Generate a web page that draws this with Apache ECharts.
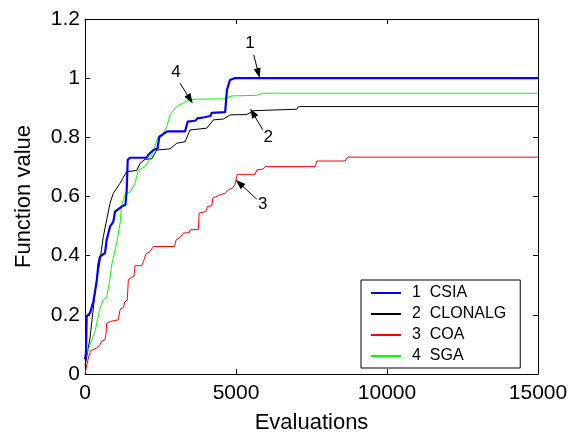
<!DOCTYPE html>
<html>
<head>
<meta charset="utf-8">
<script src="https://cdn.jsdelivr.net/npm/echarts@6/dist/echarts.min.js"></script>
<style>
html,body{margin:0;padding:0;background:#fff;}
#chart{width:572px;height:435px;}
</style>
</head>
<body>
<div id="chart"></div>
<script>
// ---- data ----
const seriesNames = ['1  CSIA', '2  CLONALG', '3  COA', '4  SGA'];
const xTicks = [0, 5000, 10000, 15000];
const yTicks = [0, 0.2, 0.4, 0.6, 0.8, 1, 1.2];

const csia = [
  [0,0.05],[33,0.07],[55,0.195],[166,0.206],[276,0.245],[387,0.313],[442,0.369],[497,0.397],
  [663,0.409],[718,0.454],[828,0.498],[939,0.515],[994,0.549],[1215,0.566],[1340,0.572],
  [1381,0.622],[1414,0.724],[1491,0.731],[2043,0.731],[2098,0.741],[2264,0.757],[2400,0.762],
  [2460,0.802],[2600,0.812],[2728,0.820],[3313,0.820],[3400,0.853],[3650,0.856],[3720,0.864],
  [3950,0.868],[4150,0.872],[4200,0.883],[4640,0.885],[4700,0.96],[4800,0.994],[4950,1.0],[15000,1.0]
];
const clonalg = [
  [0,0.03],[33,0.043],[166,0.122],[276,0.223],[387,0.324],[475,0.369],[608,0.465],[718,0.521],
  [828,0.577],[939,0.611],[994,0.617],[1160,0.645],[1215,0.648],[1381,0.684],[1712,0.688],
  [1822,0.712],[1988,0.726],[2209,0.727],[2375,0.757],[2816,0.761],[3037,0.780],[3313,0.785],
  [3479,0.825],[4031,0.831],[4252,0.859],[4583,0.862],[4804,0.876],[5357,0.877],[5577,0.890],
  [7014,0.895],[7070,0.904],[15000,0.904]
];
const coa = [
  [0,0],[110,0.054],[188,0.079],[387,0.088],[500,0.099],[552,0.110],[663,0.116],[700,0.14],
  [718,0.172],[850,0.178],[1104,0.183],[1160,0.217],[1270,0.225],[1325,0.245],[1400,0.25],
  [1436,0.320],[1546,0.326],[1620,0.33],[1657,0.366],[1878,0.366],[1933,0.380],[2021,0.406],
  [2154,0.414],[2264,0.431],[2960,0.431],[3015,0.453],[3150,0.462],[3258,0.476],[3457,0.478],
  [3479,0.487],[3755,0.489],[3780,0.544],[3999,0.549],[4053,0.566],[4200,0.569],[4230,0.594],
  [4472,0.606],[4638,0.611],[4748,0.622],[4900,0.630],[4960,0.640],[5046,0.675],[5632,0.675],
  [5688,0.690],[5900,0.693],[5964,0.701],[7622,0.701],[7677,0.720],[8615,0.720],[8692,0.733],[15000,0.733]
];
const sga = [
  [0,0.05],[33,0.06],[166,0.099],[331,0.144],[497,0.223],[608,0.251],[718,0.257],[828,0.324],
  [884,0.369],[1050,0.442],[1160,0.510],[1215,0.570],[1325,0.608],[1381,0.613],[1500,0.616],
  [1657,0.645],[1767,0.690],[1988,0.701],[2100,0.718],[2154,0.724],[2286,0.757],[2375,0.791],
  [2430,0.802],[2540,0.802],[2706,0.836],[2816,0.876],[3037,0.904],[3369,0.923],[3645,0.929],
  [4638,0.930],[4859,0.940],[5688,0.942],[5854,0.949],[15000,0.949]
];

// annotation anchors (data space)
const annoLabels = ['1', '2', '3', '4'];
const annoText = [[5466,1.119],[6070,0.800],[5886,0.575],[3010,1.019]];
const annoTail = [[5588,1.078],[5886,0.825],[5687,0.591],[3147,0.983]];
const annoTip  = [[5742,1.017],[5555,0.883],[5111,0.645],[3479,0.929]];

// ---- chart ----
const FONT = '"Liberation Sans", Arial, sans-serif';
const colors = ['#0000ff', '#000000', '#ff0000', '#00ff00'];
const widths = [2.2, 1, 1, 1];
const datasets = [csia, clonalg, coa, sga];

const chart = echarts.init(document.getElementById('chart'), null, {renderer: 'canvas'});

const axisCommon = {
  type: 'value',
  axisLine: {show: true, onZero: false, lineStyle: {color: '#000', width: 1}},
  axisTick: {show: true, inside: true, length: 5, lineStyle: {color: '#000', width: 1}},
  splitLine: {show: false},
};

const series = datasets.map((d, i) => ({
  name: seriesNames[i],
  type: 'line',
  data: d,
  symbol: 'none',
  showSymbol: false,
  animation: false,
  z: i === 0 ? 5 : 3,
  lineStyle: {color: colors[i], width: widths[i]},
  itemStyle: {color: colors[i]},
}));

series.push({
  name: 'annotations',
  type: 'line',
  data: [],
  animation: false,
  silent: true,
  markLine: {
    silent: true,
    animation: false,
    symbol: ['none', 'triangle'],
    symbolSize: [7, 10],
    lineStyle: {color: '#000', width: 1, type: 'solid'},
    label: {show: false},
    data: annoTail.map((t, i) => [{coord: t}, {coord: annoTip[i]}]),
  },
  markPoint: {
    silent: true,
    animation: false,
    symbol: 'circle',
    symbolSize: 0,
    label: {show: true, color: '#000', fontSize: 17, fontFamily: FONT, position: 'inside',
      formatter: p => p.name},
    data: annoText.map((c, i) => ({name: annoLabels[i], coord: c})),
  },
});

chart.setOption({
  backgroundColor: '#fff',
  animation: false,
  grid: {left: 85, top: 19, width: 453, height: 355, containLabel: false, outerBoundsMode: 'none'},
  legend: {
    data: seriesNames,
    orient: 'vertical',
    left: 361,
    top: 280,
    padding: [5, 14, 4, 9],
    itemWidth: 30,
    itemHeight: 14,
    itemGap: 5,
    borderColor: '#000',
    borderWidth: 1,
    backgroundColor: '#fff',
    borderRadius: 0,
    selectedMode: false,
    itemStyle: {opacity: 0, borderWidth: 0},
    textStyle: {color: '#000', fontSize: 16, fontFamily: FONT, padding: [0, 0, 0, 6]},
  },
  xAxis: [
    Object.assign({}, axisCommon, {
      position: 'bottom', min: xTicks[0], max: xTicks[xTicks.length - 1], interval: xTicks[1] - xTicks[0],
      name: 'Evaluations', nameLocation: 'middle', nameGap: 38,
      nameTextStyle: {color: '#000', fontSize: 22, fontFamily: FONT},
      axisLabel: {show: true, color: '#000', fontSize: 21, fontFamily: FONT, margin: 9,
        formatter: v => String(v)},
    }),
    Object.assign({}, axisCommon, {
      position: 'top', min: xTicks[0], max: xTicks[xTicks.length - 1], interval: xTicks[1] - xTicks[0],
      axisLabel: {show: false},
    }),
  ],
  yAxis: [
    Object.assign({}, axisCommon, {
      position: 'left', min: yTicks[0], max: yTicks[yTicks.length - 1], interval: yTicks[1] - yTicks[0],
      name: 'Function value', nameLocation: 'middle', nameGap: 50,
      nameTextStyle: {color: '#000', fontSize: 22, fontFamily: FONT},
      axisLabel: {show: true, color: '#000', fontSize: 21, fontFamily: FONT, margin: 5,
        formatter: v => String(Math.round(v * 10) / 10)},
    }),
    Object.assign({}, axisCommon, {
      position: 'right', min: yTicks[0], max: yTicks[yTicks.length - 1], interval: yTicks[1] - yTicks[0],
      axisLabel: {show: false},
    }),
  ],
  series: series,
});
</script>
</body>
</html>
